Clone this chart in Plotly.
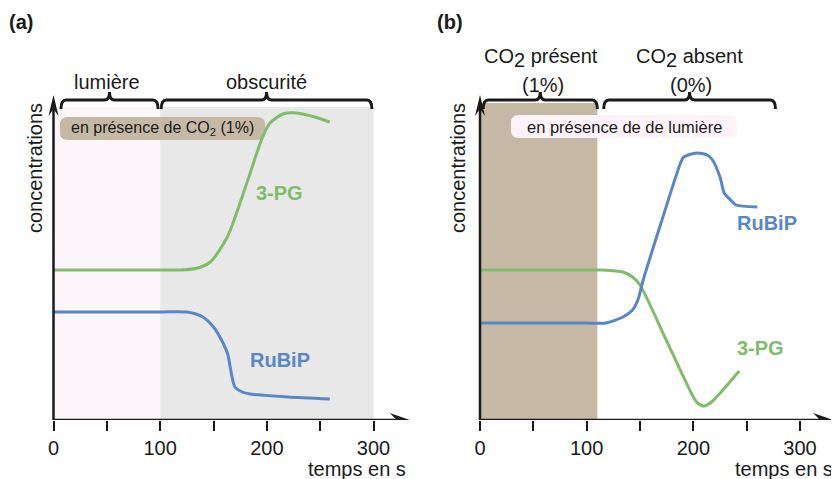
import plotly.graph_objects as go

# ---------------- data ----------------
# panel (a): light -> dark, CO2 1 %
a_t_3pg = [0, 100, 120, 135, 147, 163, 180, 196, 203, 215, 228, 245, 259]
a_3pg = [150, 150, 150, 152, 158, 183, 233, 283, 297, 306, 307, 303, 298]
a_t_rubip = [0, 100, 125, 140, 150, 156, 163, 170, 177, 184, 194, 220, 259]
a_rubip = [108, 108, 108, 103, 93, 83, 67, 33, 28, 26, 25, 23, 21]

# panel (b): CO2 1 % -> 0 %, light
b_t_3pg = [0, 95, 115, 134, 143, 150, 175, 200, 204, 210, 217, 243]
b_3pg = [150, 150, 150, 148, 143, 135, 79, 23, 17, 14, 18, 49]
b_t_rubip = [0, 100, 118, 134, 143, 148, 153, 170, 188, 191, 203, 213, 218, 225, 229, 235, 240, 260]
b_rubip = [97, 97, 97, 103, 110, 120, 140, 198, 257, 263, 267, 265, 260, 243, 227, 220, 215, 213]

x_ticks = [0, 50, 100, 150, 200, 250, 300]
x_ticktext = ["0", "", "100", "", "200", "", "300"]

a_phases = ["lumière", "obscurité"]
a_phase_bounds = [(0, 100), (100, 300)]
b_phases = [("CO<sub><span style='font-size:20px'>2</span></sub> présent", "(1%)"),
            ("CO<sub><span style='font-size:20px'>2</span></sub> absent", "(0%)")]
b_phase_bounds = [(0, 110), (110, 280)]

GREEN = "#80bd6b"
BLUE = "#5a86c8"
TAN = "#c5b9a5"
GREY = "#e8e8e8"
PINK = "#fcf5f9"
INK = "#1a1a1a"
FONT = "Liberation Sans, Arial, sans-serif"

OFF = 8                   # page body margin
W, H = 839 - OFF, 479 - OFF
PX = 320 / 300.0          # pixels per second
KX = 1 / PX               # seconds per pixel


def fx(p):  # screen pixel x -> paper
    return (p - OFF) / W


def fy(p):  # screen pixel y -> paper
    return (H - (p - OFF)) / H


fig = go.Figure()

for t, y, c in [(a_t_3pg, a_3pg, GREEN), (a_t_rubip, a_rubip, BLUE)]:
    fig.add_trace(go.Scatter(x=t, y=y, mode="lines", line=dict(color=c, width=3, shape="spline", smoothing=0.7),
                             xaxis="x", yaxis="y", showlegend=False, hoverinfo="skip"))
for t, y, c in [(b_t_3pg, b_3pg, GREEN), (b_t_rubip, b_rubip, BLUE)]:
    fig.add_trace(go.Scatter(x=t, y=y, mode="lines", line=dict(color=c, width=3, shape="spline", smoothing=0.7),
                             xaxis="x2", yaxis="y2", showlegend=False, hoverinfo="skip"))

shapes = []
annots = []


def rrect(x0, x1, y0, y1, r, xr, yr, fill):
    rx = r * KX
    p = (f"M{x0+rx},{y0} L{x1-rx},{y0} Q{x1},{y0} {x1},{y0+r} L{x1},{y1-r} "
         f"Q{x1},{y1} {x1-rx},{y1} L{x0+rx},{y1} Q{x0},{y1} {x0},{y1-r} "
         f"L{x0},{y0+r} Q{x0},{y0} {x0+rx},{y0} Z")
    return dict(type="path", path=p, xref=xr, yref=yr, fillcolor=fill, line=dict(width=0), layer="below")


def brace(x0, x1, y, xr, yr):
    xm = (x0 + x1) / 2
    e = 5 * KX
    p = (f"M{x0},{y-9} Q{x0},{y} {x0+e},{y} L{xm-e},{y} Q{xm},{y} {xm},{y+8} "
         f"Q{xm},{y} {xm+e},{y} L{x1-e},{y} Q{x1},{y} {x1},{y-9}")
    return dict(type="path", path=p, xref=xr, yref=yr, line=dict(color=INK, width=3), layer="above")


def axes_arrows(xr, yr, xtip, ytip):
    out = []
    out.append(dict(type="line", xref=xr, yref=yr, x0=0, x1=xtip - 10 * KX, y0=0, y1=0,
                    line=dict(color=INK, width=2.5), layer="above"))
    out.append(dict(type="line", xref=xr, yref=yr, x0=0, x1=0, y0=0, y1=ytip - 10,
                    line=dict(color=INK, width=2.5), layer="above"))
    out.append(dict(type="path", xref=xr, yref=yr, fillcolor=INK, line=dict(width=0), layer="above",
                    path=f"M{xtip},0 L{xtip-20*KX},7 L{xtip-13*KX},0 L{xtip-20*KX},-7 Z"))
    out.append(dict(type="path", xref=xr, yref=yr, fillcolor=INK, line=dict(width=0), layer="above",
                    path=f"M0,{ytip} L{5*KX},{ytip-21} L0,{ytip-14} L{-5*KX},{ytip-21} Z"))
    return out


# panel (a) backgrounds
shapes.append(dict(type="rect", xref="x", yref="y", x0=a_phase_bounds[0][0], x1=a_phase_bounds[0][1],
                   y0=0, y1=313, fillcolor=PINK, line=dict(width=0), layer="below"))
shapes.append(dict(type="rect", xref="x", yref="y", x0=a_phase_bounds[1][0], x1=a_phase_bounds[1][1],
                   y0=0, y1=313, fillcolor=GREY, line=dict(width=0), layer="below"))
shapes.append(rrect(6, 198.5, 280, 303, 8, "x", "y", TAN))
# panel (b) backgrounds
shapes.append(dict(type="rect", xref="x2", yref="y2", x0=b_phase_bounds[0][0], x1=b_phase_bounds[0][1],
                   y0=0, y1=317, fillcolor=TAN, line=dict(width=0), layer="below"))
shapes.append(rrect(29, 241, 282, 305, 8, "x2", "y2", "#fdf3f8"))

# braces
shapes.append(brace(7, 98, 320, "x", "y"))
shapes.append(brace(101, 298.5, 320, "x", "y"))
shapes.append(brace(3, 110, 320, "x2", "y2"))
shapes.append(brace(116, 277, 320, "x2", "y2"))

shapes += axes_arrows("x", "y", 334, 325)
shapes += axes_arrows("x2", "y2", 331, 325)

fnt = dict(family=FONT, size=20, color=INK)
C = dict(xanchor="center", yanchor="middle", showarrow=False)

# brace labels
for (x0, x1), lab in zip(a_phase_bounds, a_phases):
    annots.append(dict(x=(x0 + x1) / 2, y=338, xref="x", yref="y", text=lab, font=fnt, **C))
b_centers = [57, 196]
for xc, (l1, l2) in zip(b_centers, b_phases):
    annots.append(dict(x=xc, y=362, xref="x2", yref="y2", text=l1, font=fnt, **C))
    annots.append(dict(x=xc + 2, y=335, xref="x2", yref="y2", text=l2, font=fnt, **C))

# box labels
annots.append(dict(x=102, y=291.5, xref="x", yref="y", text="en présence de CO<sub>2</sub> (1%)",
                   font=dict(family=FONT, size=16, color=INK), **C))
annots.append(dict(x=135, y=293.5, xref="x2", yref="y2", text="en présence de de lumière",
                   font=dict(family=FONT, size=16.5, color=INK), **C))

# series labels
bold = lambda c: dict(family=FONT, size=20, color=c, weight="bold")
annots.append(dict(x=212, y=227, xref="x", yref="y", text="<b>3-PG</b>", font=bold(GREEN), **C))
annots.append(dict(x=212, y=60, xref="x", yref="y", text="<b>RuBiP</b>", font=bold(BLUE), **C))
annots.append(dict(x=269, y=197, xref="x2", yref="y2", text="<b>RuBiP</b>", font=bold(BLUE), **C))
annots.append(dict(x=262.5, y=72, xref="x2", yref="y2", text="<b>3-PG</b>", font=bold(GREEN), **C))

# axis titles / panel letters
for xpx in (35, 458):
    annots.append(dict(x=fx(xpx), y=fy(168), xref="paper", yref="paper", text="concentrations",
                       textangle=-90, font=fnt, **C))
for xr in (408, 835):
    annots.append(dict(x=fx(xr), y=fy(469), xref="paper", yref="paper", text="temps en s",
                       xanchor="right", yanchor="middle", showarrow=False, font=fnt))
annots.append(dict(x=fx(21), y=fy(22), xref="paper", yref="paper", text="<b>(a)</b>",
                   font=bold(INK), **C))
annots.append(dict(x=fx(450), y=fy(22), xref="paper", yref="paper", text="<b>(b)</b>",
                   font=bold(INK), **C))

xcommon = dict(tickvals=x_ticks, ticktext=x_ticktext, ticks="outside", ticklen=10, tickwidth=2.2,
               tickcolor=INK, showgrid=False, zeroline=False, showline=False,
               tickfont=dict(family=FONT, size=20, color=INK), fixedrange=True)
ycommon = dict(range=[0, 400], showgrid=False, zeroline=False, showline=False, showticklabels=False,
               ticks="", domain=[fy(420), fy(20)], fixedrange=True)

fig.update_layout(
    width=W, height=H, margin=dict(l=0, r=0, t=0, b=0),
    paper_bgcolor="white", plot_bgcolor="rgba(0,0,0,0)",
    xaxis=dict(domain=[fx(53.5 - 10 * PX), fx(53.5 + 340 * PX)], range=[-10, 340], anchor="y", **xcommon),
    xaxis2=dict(domain=[fx(480 - 10 * PX), min(1.0, fx(480 + 335 * PX))], range=[-10, 335], anchor="y2", **xcommon),
    yaxis=dict(anchor="x", **ycommon),
    yaxis2=dict(anchor="x2", **ycommon),
    shapes=shapes, annotations=annots, showlegend=False,
)

fig.write_html("out.html")
